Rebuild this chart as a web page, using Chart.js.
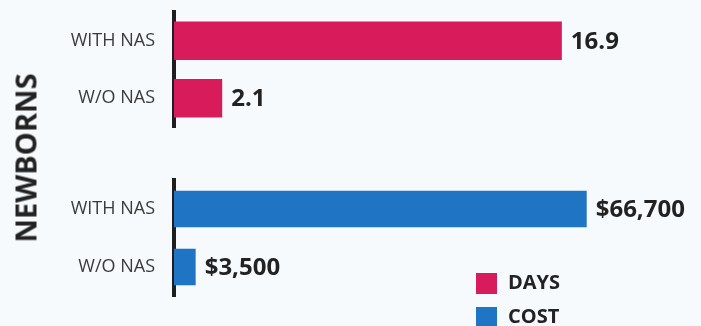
<!DOCTYPE html>
<html>
<head>
<meta charset="utf-8">
<script src="https://cdn.jsdelivr.net/npm/chart.js@4"></script>
<style>
  html, body { margin: 0; padding: 0; }
  body { width: 701px; height: 326px; background: #f6fafd; position: relative; overflow: hidden; font-family: "Open Sans", sans-serif; }
  canvas { position: absolute; left: 0; display: block; }
  #daysChart { top: 0; }
  #costChart { top: 160px; }
  #side {
    position: absolute; left: 25px; top: 158px;
    transform: translate(-50%, -50%) rotate(-90deg);
    font: 700 29px "Open Sans", sans-serif; color: #222; white-space: nowrap;
  }
  .leg { position: absolute; left: 476px; font: 700 20px "Open Sans", sans-serif; color: #222; }
  .leg span.sw { position: absolute; left: 0; top: 0; width: 21px; height: 21px; }
  .leg span.tx { position: absolute; left: 32px; top: -5px; white-space: nowrap; }
</style>
</head>
<body>
<canvas id="daysChart" width="701" height="140"></canvas>
<canvas id="costChart" width="701" height="166"></canvas>
<div id="side">NEWBORNS</div>
<div class="leg" id="legDays" style="top:273px"><span class="sw"></span><span class="tx"></span></div>
<div class="leg" id="legCost" style="top:307px"><span class="sw"></span><span class="tx"></span></div>
<script>
const categories = ['WITH NAS', 'W/O NAS'];
const daysValues = [16.9, 2.1];
const costValues = [66700, 3500];
const seriesNames = ['DAYS', 'COST'];
const seriesColors = ['#d81b5b', '#1f74c4'];

// writes the number just past the end of each bar
const valueLabels = {
  id: 'valueLabels',
  afterDatasetsDraw(chart, args, opts) {
    const ctx = chart.ctx;
    ctx.save();
    ctx.font = '700 24px "Open Sans", sans-serif';
    ctx.fillStyle = '#222';
    ctx.textBaseline = 'middle';
    ctx.textAlign = 'left';
    chart.getDatasetMeta(0).data.forEach((bar, i) => {
      const v = chart.data.datasets[0].data[i];
      ctx.fillText(opts.format(v), bar.x + 9, bar.y + 1);
    });
    ctx.restore();
  }
};

function makeChart(id, values, color, name, max, pad, barPct, fmt) {
  return new Chart(document.getElementById(id), {
    type: 'bar',
    data: {
      labels: categories,
      datasets: [{
        label: name,
        data: values,
        backgroundColor: color,
        borderWidth: 0,
        categoryPercentage: 1,
        barPercentage: barPct
      }]
    },
    options: {
      indexAxis: 'y',
      responsive: false,
      animation: false,
      devicePixelRatio: 1,
      layout: { padding: pad },
      plugins: {
        legend: { display: false },
        tooltip: { enabled: false },
        valueLabels: { format: fmt }
      },
      scales: {
        x: { display: false, min: 0, max: max },
        y: {
          // fixed axis width, and no extra room for the tick labels
          afterFit: s => { s.width = 174; s.paddingTop = 0; s.paddingBottom = 0; },
          grid: { display: false, drawTicks: false },
          border: { display: true, color: '#1e1e1e', width: 4 },
          ticks: { padding: 19, color: '#3a3a3a', font: { family: 'Open Sans', size: 18 } }
        }
      }
    },
    plugins: [valueLabels]
  });
}

makeChart('daysChart', daysValues, seriesColors[0], seriesNames[0], 20,
  { top: 12, bottom: 13, left: 0, right: 68 }, 0.67, v => v.toFixed(1));
makeChart('costChart', costValues, seriesColors[1], seriesNames[1], 80000,
  { top: 20, bottom: 30, left: 0, right: 32 }, 0.63, v => '$' + v.toLocaleString('en-US'));

['legDays', 'legCost'].forEach((id, i) => {
  const el = document.getElementById(id);
  el.querySelector('.sw').style.background = seriesColors[i];
  el.querySelector('.tx').textContent = seriesNames[i];
});
</script>
</body>
</html>
